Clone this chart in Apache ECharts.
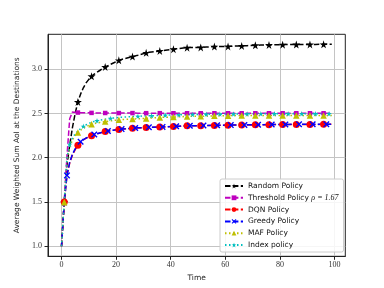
<!DOCTYPE html>
<html><head><meta charset="utf-8">
<script src="https://cdn.jsdelivr.net/npm/echarts@6/dist/echarts.min.js"></script>
<style>html,body{margin:0;padding:0;background:#fff}#c{width:384px;height:288px}</style>
</head><body><div id="c"></div>
<script>
const times = [0,1,2,3,4,5,6,7,8,9,10,11,12,13,14,15,16,17,18,19,20,21,22,26,27,28,31,32,33,36,37,38,41,42,43,46,47,48,51,52,53,56,57,58,61,62,63,66,67,68,71,72,73,76,77,78,81,82,83,86,87,88,91,92,93,96,97,98,99];
const randomVals = [1.0,1.5,1.92,2.14,2.34,2.50,2.63,2.72,2.79,2.845,2.885,2.92,2.945,2.965,2.985,3.005,3.025,3.04,3.055,3.07,3.085,3.10,3.11,3.142,3.15,3.158,3.185,3.19,3.195,3.206,3.21,3.214,3.226,3.23,3.234,3.243,3.244,3.245,3.246,3.248,3.25,3.255,3.256,3.256,3.257,3.258,3.26,3.263,3.265,3.266,3.27,3.271,3.272,3.274,3.275,3.276,3.277,3.278,3.278,3.279,3.279,3.279,3.28,3.28,3.28,3.281,3.281,3.281,3.281];
const thresholdVals = [1.0,1.5,2.02,2.44,2.515,2.512,2.51,2.509,2.508,2.507,2.507,2.506,2.506,2.506,2.505,2.505,2.505,2.505,2.505,2.505,2.505,2.504,2.504,2.504,2.504,2.503,2.503,2.503,2.503,2.503,2.503,2.503,2.502,2.502,2.502,2.502,2.502,2.502,2.502,2.502,2.502,2.502,2.502,2.502,2.502,2.502,2.502,2.502,2.502,2.502,2.502,2.502,2.502,2.502,2.502,2.502,2.502,2.502,2.502,2.502,2.502,2.502,2.502,2.502,2.502,2.502,2.502,2.502,2.502];
const dqnVals = [1.0,1.5,1.80,1.94,2.03,2.09,2.14,2.175,2.20,2.22,2.235,2.248,2.26,2.27,2.278,2.286,2.295,2.30,2.305,2.31,2.315,2.319,2.322,2.332,2.334,2.336,2.341,2.342,2.343,2.346,2.347,2.348,2.353,2.354,2.355,2.36,2.36,2.36,2.361,2.362,2.363,2.365,2.365,2.366,2.367,2.367,2.368,2.369,2.369,2.37,2.371,2.372,2.372,2.373,2.373,2.374,2.375,2.375,2.375,2.376,2.376,2.376,2.376,2.376,2.376,2.377,2.377,2.377,2.377];
const greedyVals = [1.0,1.5,1.80,1.95,2.04,2.10,2.145,2.18,2.203,2.222,2.237,2.25,2.261,2.271,2.28,2.288,2.296,2.301,2.306,2.311,2.316,2.32,2.323,2.333,2.335,2.337,2.342,2.343,2.344,2.347,2.348,2.349,2.354,2.355,2.356,2.36,2.361,2.361,2.362,2.363,2.364,2.366,2.366,2.367,2.368,2.368,2.369,2.37,2.37,2.371,2.372,2.373,2.373,2.374,2.374,2.375,2.376,2.376,2.376,2.377,2.377,2.377,2.377,2.377,2.377,2.378,2.378,2.378,2.378];
const mafVals = [1.0,1.5,1.98,2.12,2.20,2.25,2.285,2.31,2.333,2.35,2.365,2.378,2.386,2.392,2.398,2.403,2.408,2.412,2.416,2.42,2.424,2.428,2.43,2.437,2.438,2.44,2.444,2.446,2.448,2.455,2.456,2.457,2.46,2.461,2.462,2.466,2.467,2.467,2.468,2.469,2.47,2.473,2.474,2.474,2.475,2.476,2.476,2.477,2.477,2.477,2.478,2.478,2.478,2.478,2.478,2.478,2.478,2.478,2.478,2.478,2.478,2.478,2.478,2.478,2.478,2.478,2.478,2.478,2.478];
const indexVals = [1.0,1.5,2.0,2.15,2.22,2.27,2.30,2.33,2.355,2.372,2.387,2.40,2.41,2.418,2.425,2.43,2.435,2.44,2.444,2.448,2.452,2.455,2.458,2.465,2.467,2.468,2.472,2.473,2.474,2.478,2.479,2.48,2.483,2.484,2.485,2.487,2.488,2.488,2.49,2.49,2.491,2.492,2.492,2.493,2.493,2.494,2.494,2.495,2.495,2.495,2.496,2.496,2.496,2.496,2.496,2.497,2.497,2.497,2.497,2.497,2.497,2.497,2.497,2.497,2.497,2.497,2.497,2.497,2.497];
const seriesNames = ['Random Policy','Threshold Policy ρ = 1.67','DQN Policy','Greedy Policy','MAF Policy','Index policy'];
const xTicks = [0,20,40,60,80,100];
const yTicks = [1.0,1.5,2.0,2.5,3.0];

const STAR = 'path://M50,0 L61,35 L98,35 L68,57 L79,91 L50,70 L21,91 L32,57 L2,35 L39,35 Z';
const XMARK = 'path://M0,15 L15,0 L50,35 L85,0 L100,15 L65,50 L100,85 L85,100 L50,65 L15,100 L0,85 L35,50 Z';
const styles = [
  {vals: randomVals, color:'#000000', type:[5.5,2.4], symbol: STAR, size: 8, start:1},
  {vals: thresholdVals, color:'#bf00bf', type:[5.5,2.4], symbol: 'rect', size: 4.5, start:1},
  {vals: dqnVals, color:'#ff0000', type:[5.5,2.4], symbol: 'circle', size: 7, start:1},
  {vals: greedyVals, color:'#0000ff', type:[5.5,2.4], symbol: XMARK, size: 6.5, start:2},
  {vals: mafVals, color:'#bfbf00', type:[1.5,2.5], symbol: 'triangle', size: 6.5, start:1},
  {vals: indexVals, color:'#00bfbf', type:[1.5,2.5], symbol: STAR, size: 5.5, start:3}
];
const series = styles.map((s, k) => ({
  name: seriesNames[k],
  type: 'line',
  symbol: s.symbol,
  symbolSize: s.size,
  showSymbol: true,
  showAllSymbol: true,
  lineStyle: {color: s.color, width: 1.5, type: s.type},
  itemStyle: {color: s.color},
  emphasis: {disabled: true},
  data: times.map((t, i) => ({
    value: [t, s.vals[i]],
    symbol: (t >= s.start && (t - s.start) % 5 === 0) ? s.symbol : 'none'
  }))
}));

const chart = echarts.init(document.getElementById('c'), null, {renderer: 'canvas'});
chart.setOption({
  animation: false,
  backgroundColor: '#ffffff',
  grid: {left: 48, right: 38.7, top: 34.3, bottom: 31.7, show: true, borderColor: '#222', borderWidth: 1, backgroundColor: 'transparent'},
  xAxis: {
    type: 'value', min: -4.95, max: 103.95,
    name: 'Time', nameLocation: 'middle', nameGap: 13,
    nameTextStyle: {fontFamily: 'DejaVu Sans', fontSize: 7.5, color: '#222'},
    axisLine: {show: true, onZero: false, lineStyle: {color: '#222', width: 1}},
    axisTick: {show: true, length: 3.5, customValues: xTicks, lineStyle: {color: '#222'}},
    axisLabel: {customValues: xTicks, margin: 5, fontFamily: 'Liberation Serif', fontSize: 8, color: '#333'},
    splitLine: {show: true, lineStyle: {color: '#c4c4c4', width: 1}}
  },
  yAxis: {
    type: 'value', min: 0.886, max: 3.394,
    name: 'Average Weighted Sum AoI at the Destinations', nameLocation: 'middle', nameGap: 23,
    nameTextStyle: {fontFamily: 'DejaVu Sans', fontSize: 7.5, color: '#222'},
    axisLine: {show: true, onZero: false, lineStyle: {color: '#222', width: 1}},
    axisTick: {show: true, length: 3.5, customValues: yTicks, lineStyle: {color: '#222'}},
    axisLabel: {customValues: yTicks, margin: 6, fontFamily: 'Liberation Serif', fontSize: 8, color: '#333', formatter: v => v.toFixed(1)},
    splitLine: {show: true, lineStyle: {color: '#c4c4c4', width: 1}}
  },
  legend: {
    left: 220, top: 179, orient: 'vertical',
    itemWidth: 18, itemHeight: 6, itemGap: 3.8,
    padding: [3, 5, 3, 4],
    backgroundColor: 'rgba(255,255,255,0.85)', borderColor: '#cccccc', borderWidth: 1, borderRadius: 2,
    textStyle: {fontFamily: 'DejaVu Sans', fontSize: 7.5, color: '#111',
      rich: {m: {fontFamily: 'Liberation Serif', fontSize: 8, fontStyle: 'italic', color: '#111'}}},
    formatter: name => name.indexOf('ρ') >= 0 ? 'Threshold Policy {m|ρ = 1.67}' : name,
    data: seriesNames
  },
  series: series
});
</script></body></html>
